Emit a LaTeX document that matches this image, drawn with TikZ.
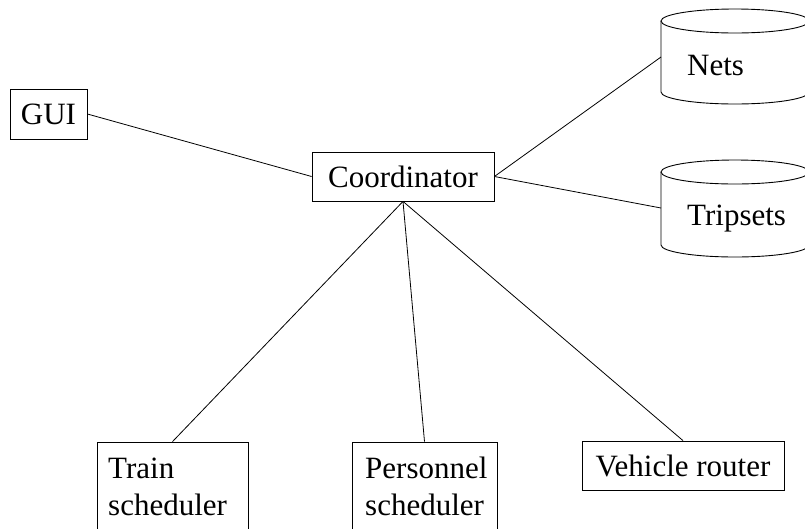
\documentclass[tikz,border=0pt]{standalone}
\usepackage{fontspec}
\setmainfont{Liberation Serif}
\newfontfamily\diagfont{Liberation Serif}
\begin{document}
\begin{tikzpicture}[x=1pt,y=1pt,
  every node/.style={font=\diagfont\fontsize{31}{37}\selectfont, inner sep=0pt},
  box/.style={draw, line width=0.8pt, rectangle},
  label/.style={anchor=base west, align=left},
  link/.style={line width=0.8pt},
  cylline/.style={line width=0.9pt}]
\useasboundingbox (0,0) rectangle (805,-528);
\clip (0,0) rectangle (805,-528);

% plain boxes
\node[box, minimum width=77pt, minimum height=50pt] (gui) at (48.5,-114) {GUI};
\node[box, minimum width=182pt, minimum height=49pt] (coord) at (403,-176.5) {Coordinator};
\node[box, minimum width=202pt, minimum height=49pt] (veh) at (683,-465.5) {Vehicle router};

% tall boxes running past the lower edge, with top-left text
\node[box, minimum width=151pt, minimum height=118pt] (train) at (172.5,-501) {};
\node[label] (traintext) at (108,-515) {Train\\scheduler};
\node[box, minimum width=145pt, minimum height=118pt] (pers) at (424.5,-501) {};
\node[label] (perstext) at (365,-515) {Personnel\\scheduler};

% data stores drawn as cylinders touching the right edge
\draw[cylline] (735,-21) ellipse [x radius=74pt, y radius=12pt];
\draw[cylline] (661,-21) -- (661,-92) arc [start angle=180, end angle=360, x radius=74pt, y radius=12pt] -- (809,-21);
\coordinate (nets) at (661,-57);
\node[label] (netstext) at (687,-75) {Nets};

\draw[cylline] (735,-172) ellipse [x radius=74pt, y radius=12pt];
\draw[cylline] (661,-172) -- (661,-245) arc [start angle=180, end angle=360, x radius=74pt, y radius=12pt] -- (809,-172);
\coordinate (trips) at (661,-208);
\node[label] (tripstext) at (687,-225) {Tripsets};

% connectors
\draw[link] (gui.east) -- (coord.west);
\draw[link] (coord.east) -- (nets);
\draw[link] (coord.east) -- (trips);
\draw[link] (coord.south) -- (train.north);
\draw[link] (coord.south) -- (pers.north);
\draw[link] (coord.south) -- (veh.north);
\end{tikzpicture}
\end{document}
